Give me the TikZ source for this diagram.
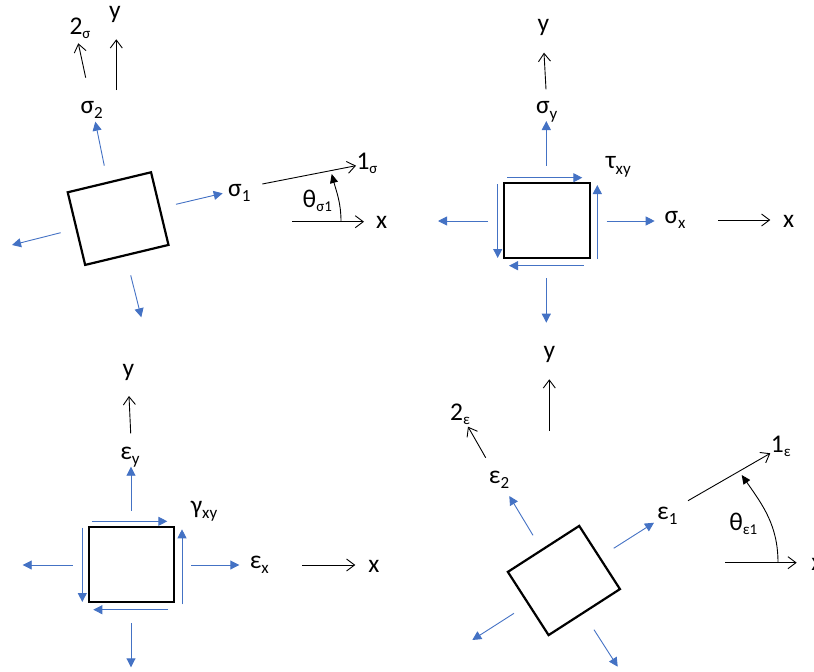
\documentclass[tikz,border=0pt]{standalone}
\usepackage{fontspec}
\setmainfont{Carlito}
\usetikzlibrary{arrows.meta}
\definecolor{load}{HTML}{4472C4}
\newcommand{\low}[1]{\raisebox{-0.45ex}{\fontsize{17}{17}\selectfont #1}}
\newcommand{\lowsm}[1]{\raisebox{-0.35ex}{\fontsize{15}{15}\selectfont #1}}
\tikzset{
  element/.style={draw,line width=2.2pt,inner sep=0pt},
  loadarrow/.style={load,line width=0.9pt,-{Triangle[length=9pt,width=9pt]}},
  axisarrow/.style={black,line width=0.9pt,-{Straight Barb[length=8pt,width=12pt]}},
  anglearrow/.style={black,line width=0.9pt,-{Triangle[length=9pt,width=8pt]}},
  lbl/.style={inner sep=0pt,font=\fontsize{25.5}{27}\selectfont}
}

\begin{document}
\begin{tikzpicture}[x=1pt,y=-1pt]
        \useasboundingbox (0,0) rectangle (814,672);
        % principal stress
        \node[element,minimum width=85.7pt,minimum height=74.7pt,rotate=13.5] (elemS) at (118.1,218.6) {};
        \coordinate (sUpA) at (104.3,165.7); \coordinate (sUpB) at (95.3,121.7);
        \coordinate (sRtA) at (176,204.3); \coordinate (sRtB) at (222.7,193.3);
        \coordinate (sLfA) at (60.7,232.7); \coordinate (sLfB) at (12,245);
        \coordinate (sDnA) at (130.7,275.3); \coordinate (sDnB) at (141.3,317.3);
        \draw[loadarrow] (sUpA) -- (sUpB);
        \draw[loadarrow] (sRtA) -- (sRtB);
        \draw[loadarrow] (sLfA) -- (sLfB);
        \draw[loadarrow] (sDnA) -- (sDnB);
        \coordinate (sTwoA) at (85.7,77.7); \coordinate (sTwoB) at (78.3,43.3);
        \coordinate (sYA) at (116.3,90); \coordinate (sYB) at (116.3,39.3);
        \coordinate (sOneA) at (262.3,184); \coordinate (sOneB) at (356,165.7);
        \coordinate (sXA) at (292,221.7); \coordinate (sXB) at (364,221.7);
        \coordinate (sThA) at (341,221.7); \coordinate (sThB) at (331.7,174);
        \draw[axisarrow] (sTwoA) -- (sTwoB);
        \draw[axisarrow] (sYA) -- (sYB);
        \draw[axisarrow] (sOneA) -- (sOneB);
        \draw[axisarrow] (sXA) -- (sXB);
        \draw[anglearrow] (sThA) to[out=90,in=-75] (sThB);
        \node[lbl] (lTwoS) at (80,28) {2\lowsm{σ}};
        \node[lbl] (lYS) at (115,14) {y};
        \node[lbl] (lSig2) at (91.7,110) {σ\low{2}};
        \node[lbl] (lSig1) at (239.3,193) {σ\low{1}};
        \node[lbl] (lOneS) at (367,163) {1\lowsm{σ}};
        \node[lbl] (lThS) at (317.3,201) {θ\lowsm{σ1}};
        \node[lbl] (lXS) at (381.7,222) {x};
        % stress
        \node[element,minimum width=85.7pt,minimum height=75pt] (elemT) at (546.8,220.5) {};
        \coordinate (tUpA) at (546.3,165.7); \coordinate (tUpB) at (546.3,121);
        \coordinate (tRtA) at (606.7,221); \coordinate (tRtB) at (654.7,221);
        \coordinate (tLfA) at (488,221); \coordinate (tLfB) at (438,221);
        \coordinate (tDnA) at (546.3,278.3); \coordinate (tDnB) at (546.3,322.7);
        \coordinate (tShTA) at (507.3,177.7); \coordinate (tShTB) at (582.3,177.7);
        \coordinate (tShRA) at (597.3,259.3); \coordinate (tShRB) at (597.3,185);
        \coordinate (tShBA) at (583.7,265.7); \coordinate (tShBB) at (509,265.7);
        \coordinate (tShLA) at (497.7,184); \coordinate (tShLB) at (497.7,258);
        \draw[loadarrow] (tUpA) -- (tUpB);
        \draw[loadarrow] (tRtA) -- (tRtB);
        \draw[loadarrow] (tLfA) -- (tLfB);
        \draw[loadarrow] (tDnA) -- (tDnB);
        \draw[loadarrow] (tShTA) -- (tShTB);
        \draw[loadarrow] (tShRA) -- (tShRB);
        \draw[loadarrow] (tShBA) -- (tShBB);
        \draw[loadarrow] (tShLA) -- (tShLB);
        \coordinate (tYA) at (546,89.3); \coordinate (tYB) at (544,52.7);
        \coordinate (tXA) at (718,220); \coordinate (tXB) at (770.3,220);
        \draw[axisarrow] (tYA) -- (tYB);
        \draw[axisarrow] (tXA) -- (tXB);
        \node[lbl] (lYT) at (543.3,27) {y};
        \node[lbl] (lSigY) at (546.7,112) {σ\low{y}};
        \node[lbl] (lTau) at (618.3,167) {τ\low{xy}};
        \node[lbl] (lSigX) at (675,220) {σ\low{x}};
        \node[lbl] (lXT) at (788.7,221) {x};
        % strain
        \node[element,minimum width=85.3pt,minimum height=75pt] (elemG) at (131.7,564.5) {};
        \coordinate (gUpA) at (131,510.7); \coordinate (gUpB) at (131,466.7);
        \coordinate (gRtA) at (191.3,565); \coordinate (gRtB) at (239.3,565);
        \coordinate (gLfA) at (72.7,565); \coordinate (gLfB) at (22.7,565);
        \coordinate (gDnA) at (131,623); \coordinate (gDnB) at (131,667.3);
        \coordinate (gShTA) at (91.7,521.3); \coordinate (gShTB) at (167.3,521.3);
        \coordinate (gShRA) at (182,604.3); \coordinate (gShRB) at (182,529.3);
        \coordinate (gShBA) at (168.3,609.7); \coordinate (gShBB) at (93.3,609.7);
        \coordinate (gShLA) at (82.3,527.7); \coordinate (gShLB) at (82.3,602);
        \draw[loadarrow] (gUpA) -- (gUpB);
        \draw[loadarrow] (gRtA) -- (gRtB);
        \draw[loadarrow] (gLfA) -- (gLfB);
        \draw[loadarrow] (gDnA) -- (gDnB);
        \draw[loadarrow] (gShTA) -- (gShTB);
        \draw[loadarrow] (gShRA) -- (gShRB);
        \draw[loadarrow] (gShBA) -- (gShBB);
        \draw[loadarrow] (gShLA) -- (gShLB);
        \coordinate (gYA) at (130.7,433.3); \coordinate (gYB) at (129,396);
        \coordinate (gXA) at (302.3,565); \coordinate (gXB) at (355.3,565);
        \draw[axisarrow] (gYA) -- (gYB);
        \draw[axisarrow] (gXA) -- (gXB);
        \node[lbl] (lYG) at (128.3,372) {y};
        \node[lbl] (lEpsY) at (130,457) {ε\low{y}};
        \node[lbl] (lGam) at (204,511) {γ\low{xy}};
        \node[lbl] (lEpsX) at (259.3,565) {ε\low{x}};
        \node[lbl] (lXG) at (374,566) {x};
        % principal strain
        \node[element,minimum width=84.9pt,minimum height=75.2pt,rotate=32.8] (elemE) at (563.9,580.5) {};
        \coordinate (eUpA) at (533,535.3); \coordinate (eUpB) at (509.3,496);
        \coordinate (eRtA) at (613.7,548.3); \coordinate (eRtB) at (654,522.7);
        \coordinate (eLfA) at (514,613.3); \coordinate (eLfB) at (472.3,640);
        \coordinate (eDnA) at (594,629.7); \coordinate (eDnB) at (617.7,666.7);
        \draw[loadarrow] (eUpA) -- (eUpB);
        \draw[loadarrow] (eRtA) -- (eRtB);
        \draw[loadarrow] (eLfA) -- (eLfB);
        \draw[loadarrow] (eDnA) -- (eDnB);
        \coordinate (eTwoA) at (485.7,457.7); \coordinate (eTwoB) at (468,426.7);
        \coordinate (eYA) at (549.3,430.7); \coordinate (eYB) at (549.3,379.3);
        \coordinate (eOneA) at (688,500.7); \coordinate (eOneB) at (770.3,453.3);
        \coordinate (eXA) at (725,562.7); \coordinate (eXB) at (796.7,562.7);
        \coordinate (eThA) at (778,562.7); \coordinate (eThB) at (741.7,475);
        \draw[axisarrow] (eTwoA) -- (eTwoB);
        \draw[axisarrow] (eYA) -- (eYB);
        \draw[axisarrow] (eOneA) -- (eOneB);
        \draw[axisarrow] (eXA) -- (eXB);
        \draw[anglearrow] (eThA) to[out=90,in=-55] (eThB);
        \node[lbl] (lTwoE) at (460,414) {2\lowsm{ε}};
        \node[lbl] (lYE) at (549.3,354) {y};
        \node[lbl] (lEps2) at (499,480) {ε\low{2}};
        \node[lbl] (lEps1) at (667.3,516) {ε\low{1}};
        \node[lbl] (lOneE) at (780.7,446.7) {1\lowsm{ε}};
        \node[lbl] (lThE) at (743.3,524) {θ\lowsm{ε1}};
        \node[lbl] (lXE) at (817,564) {x};
      \end{tikzpicture}
\end{document}
